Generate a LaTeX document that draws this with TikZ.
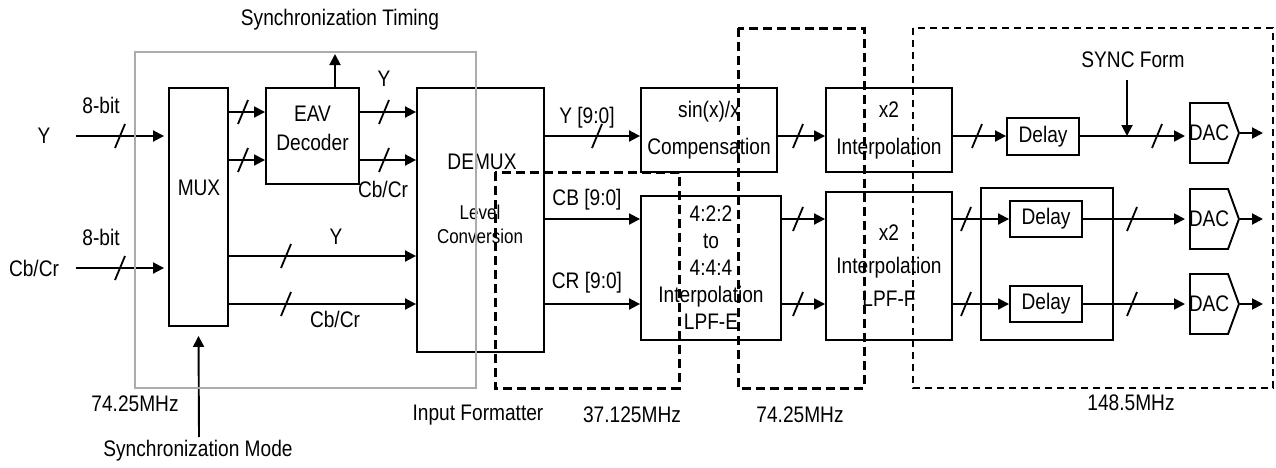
\documentclass[tikz,border=0pt]{standalone}
\usepackage{fontspec}
\setmainfont{Liberation Sans}[FakeStretch=0.85]
\usetikzlibrary{positioning,arrows.meta,shapes.symbols}
\newcommand\dgfont{\fontsize{22.5}{27}\selectfont}
\newcommand\dgsmall{\fontsize{20}{24}\selectfont}
\tikzset{
  blk/.style={draw,line width=1.9pt,inner sep=0pt,align=center,font=\dgfont},
  grpbox/.style={draw,line width=1.5pt,inner sep=0pt},
  txt/.style={inner sep=0pt,align=center,font=\dgfont},
  smalltxt/.style={inner sep=0pt,align=center,font=\dgsmall},
  dac/.style={signal,signal to=east,signal pointer angle=140,draw,line width=1.9pt,
    minimum width=49pt,minimum height=60pt,inner xsep=-2pt,inner ysep=0pt,font=\dgfont},
  sig/.style={-{Triangle[length=11pt,width=11pt]},line width=1.9pt},
  busmark/.style={line width=1.8pt},
  bus/.pic={\draw[busmark] (-5,12) -- (5,-12);},
  fmtbox/.style={draw=gray!65,line width=1.5pt},
  clkbox/.style={line width=3pt,dash pattern=on 9pt off 5pt},
  clkthin/.style={line width=2.2pt,dash pattern=on 7pt off 5pt}
}

\begin{document}
\begin{tikzpicture}[x=1pt,y=-1pt]
  \useasboundingbox (0,0) rectangle (1276,467);
  % signal rows
  \coordinate (rA) at (0,112);
  \coordinate (rB) at (0,160);
  \coordinate (rY) at (0,136);
  \coordinate (rI) at (0,268);
  \coordinate (rM) at (0,256);
  \coordinate (rC) at (0,304);
  \coordinate (rD) at (0,219);

  % input formatter
  \node[blk,minimum width=59pt,minimum height=238pt] (mux) at (198.5,207) {};
  \node[txt] (muxtxt) at (199,188) {MUX};
  \node[blk,minimum width=93pt,minimum height=96pt] (eav) at (312.5,136) {};
  \node[txt,font=\fontsize{22.5}{29}\selectfont] (eavtxt) at (312.5,128) {EAV\\Decoder};
  \node[blk,minimum width=127pt,minimum height=264pt] (demux) at (480.5,220) {};
  \node[txt] (demuxtxt) at (482,162) {DEMUX};
  \node[smalltxt] (lvltxt) at (480,224) {Level\\Conversion};

  % filters
  \node[blk,minimum width=136pt,minimum height=84pt] (sinx) at (709,130) {sin(x)/x\\[10pt]Compensation};
  \node[blk,minimum width=140pt,minimum height=144pt] (conv) at (711,268) {4:2:2\\to\\4:4:4\\Interpolation\\LPF-E};
  \node[blk,minimum width=126pt,minimum height=84pt] (x2top) at (889,130) {x2\\[10pt]Interpolation};
  \node[blk,minimum width=126pt,minimum height=148pt] (x2bot) at (889,266) {x2\\[6pt]Interpolation\\[6pt]LPF-F};

  % output stage
  \node[blk,minimum width=72pt,minimum height=37pt] (delay1) at (1043,136.5) {Delay};
  \node[grpbox,minimum width=132pt,minimum height=152pt] (grp) at (1047,264) {};
  \node[blk,minimum width=72pt,minimum height=36pt] (delay2) at (1046,219) {Delay};
  \node[blk,minimum width=72pt,minimum height=36pt] (delay3) at (1046,304) {Delay};
  \node[dac,anchor=west] (dac1) at (1189,133) {DAC};
  \node[dac,anchor=west] (dac2) at (1189,219) {DAC};
  \node[dac,anchor=west] (dac3) at (1189,304) {DAC};

  % inputs
  \node[txt] (ytxt) at (44,136) {Y};
  \node[txt] (cbcrtxt) at (34,268) {Cb/Cr};
  \node[txt] (bitA) at (101,105) {8-bit};
  \node[txt] (bitB) at (101,237) {8-bit};
  \coordinate (yin) at (76,136);
  \coordinate (cin) at (76,268);
  \draw[sig,shorten >=4pt] (yin) -- (yin -| mux.west);
  \draw[sig,shorten >=4pt] (cin) -- (cin -| mux.west);
  \pic at (120,136) {bus};
  \pic at (120,268) {bus};

  % mux to decoder and demux
  \draw[sig] (mux.east |- rA) -- (eav.west |- rA);
  \draw[sig] (mux.east |- rB) -- (eav.west |- rB);
  \draw[sig] (eav.east |- rA) -- (demux.west |- rA);
  \draw[sig] (eav.east |- rB) -- (demux.west |- rB);
  \draw[sig] (mux.east |- rM) -- (demux.west |- rM);
  \draw[sig] (mux.east |- rC) -- (demux.west |- rC);
  \pic at (243,112) {bus};
  \pic at (243,160) {bus};
  \pic at (384,112) {bus};
  \pic at (384,160) {bus};
  \pic at (286,256) {bus};
  \pic at (286,304) {bus};
  \node[txt] (eavy) at (384,79) {Y};
  \node[txt] (eavc) at (383,189) {Cb/Cr};
  \node[txt] (muxy) at (336,237) {Y};
  \node[txt] (muxc) at (335,319) {Cb/Cr};

  % sync
  \coordinate (synct) at (335,54);
  \draw[sig] (synct |- eav.north) -- (synct);
  \node[txt] (timetxt) at (340,20) {Synchronization Timing};
  \coordinate (syncm) at (199,437);
  \draw[sig] (syncm) -- ([yshift=-9pt]mux.south);
  \node[txt] (modetxt) at (198,451) {Synchronization Mode};
  \node[txt] (clkA) at (135,404) {74.25MHz};

  % demux outputs
  \draw[sig] (demux.east |- rY) -- (sinx.west |- rY);
  \draw[sig] (demux.east |- rD) -- (conv.west |- rD);
  \draw[sig] (demux.east |- rC) -- (conv.west |- rC);
  \pic at (597,136) {bus};
  \node[txt] (ybus) at (587,118) {Y [9:0]};
  \node[txt] (cbbus) at (587,200) {CB [9:0]};
  \node[txt] (crbus) at (587,283) {CR [9:0]};

  % interpolation
  \draw[sig] (sinx.east |- rY) -- (x2top.west |- rY);
  \draw[sig] (conv.east |- rD) -- (x2bot.west |- rD);
  \draw[sig] (conv.east |- rC) -- (x2bot.west |- rC);
  \pic at (798,136) {bus};
  \pic at (798,219) {bus};
  \pic at (798,304) {bus};

  % delays and dacs
  \draw[sig] (x2top.east |- rY) -- (delay1.west |- rY);
  \draw[sig,shorten >=4pt] (delay1.east |- rY) -- (dac1.west |- rY);
  \draw[sig] (x2bot.east |- rD) -- (delay2.west |- rD);
  \draw[sig,shorten >=4pt] (delay2.east |- rD) -- (dac2.west |- rD);
  \draw[sig] (x2bot.east |- rC) -- (delay3.west |- rC);
  \draw[sig,shorten >=4pt] (delay3.east |- rC) -- (dac3.west |- rC);
  \pic at (977,136) {bus};
  \pic at (1157,136) {bus};
  \pic at (966,219) {bus};
  \pic at (1132,219) {bus};
  \pic at (966,304) {bus};
  \pic at (1132,304) {bus};
  \coordinate (outA) at (1263,135);
  \draw[sig] (dac1.east) -- (outA |- dac1.east);
  \draw[sig] (dac2.east) -- (outA |- dac2.east);
  \draw[sig] (dac3.east) -- (outA |- dac3.east);
  \coordinate (syncf) at (1127,80);
  \draw[sig] (syncf) -- (syncf |- rY);
  \node[txt] (synctxt) at (1133,60) {SYNC Form};

  % clock domains
  \draw[fmtbox] (135,52) rectangle (476,388);
  \draw[clkbox] (495,172) rectangle (679,388);
  \draw[clkbox] (738,28) rectangle (864,388);
  \draw[clkthin] (913,28) rectangle (1273,388);
  \node[txt] (fmttxt) at (478,415) {Input Formatter};
  \node[txt] (clkB) at (632,415) {37.125MHz};
  \node[txt] (clkC) at (800,415) {74.25MHz};
  \node[txt] (clkD) at (1131,403) {148.5MHz};
\end{tikzpicture}
\end{document}
